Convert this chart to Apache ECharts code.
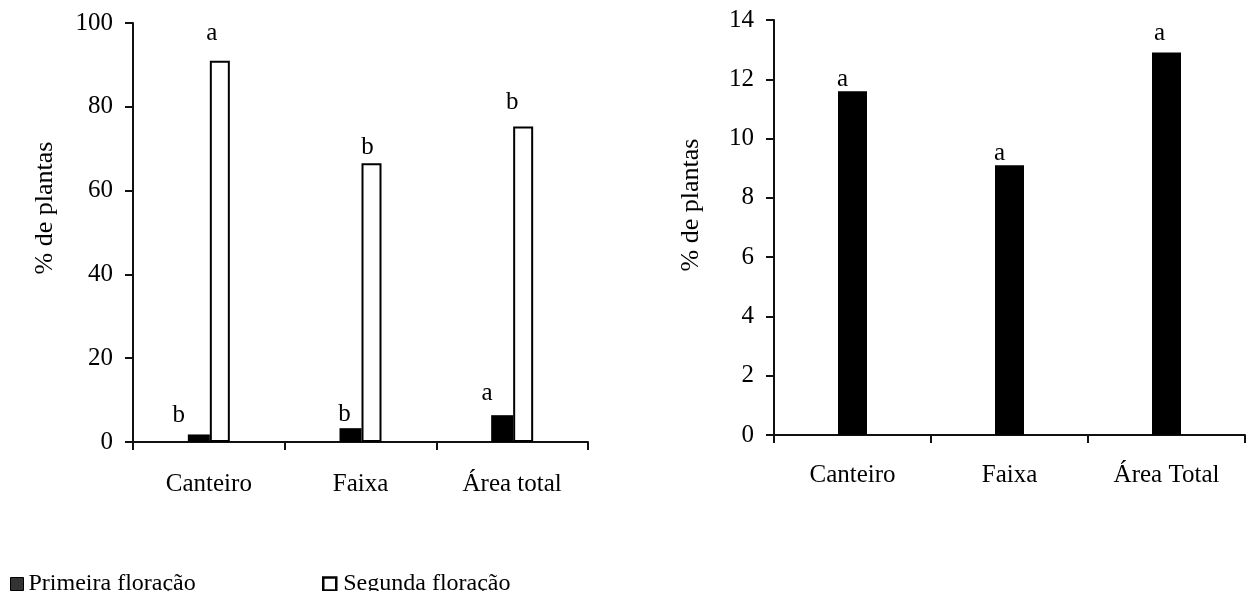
<!DOCTYPE html>
<html>
<head>
<meta charset="utf-8">
<script src="https://cdn.jsdelivr.net/npm/echarts@6/dist/echarts.min.js"></script>
<style>
  html, body { margin: 0; padding: 0; background: #fff; }
  #chart { width: 1252px; height: 591px; }
</style>
</head>
<body>
<div id="chart"></div>
<script>
// Left panel: share of plants flowering in the first and second flowering
const leftCategories = ['Canteiro', 'Faixa', 'Área total'];
const primeiraValues = [1.8, 3.3, 6.4];
const segundaValues = [91.0, 66.5, 75.3];
const primeiraLetters = ['b', 'b', 'a'];
const segundaLetters = ['a', 'b', 'b'];
const leftTicks = [0, 20, 40, 60, 80, 100];

// Right panel: share of plants per area
const rightCategories = ['Canteiro', 'Faixa', 'Área Total'];
const rightValues = [11.6, 9.1, 12.9];
const rightLetters = ['a', 'a', 'a'];
const rightTicks = [0, 2, 4, 6, 8, 10, 12, 14];

const FONT = '"Liberation Serif", "Times New Roman", serif';
const INK = '#000';

// hand-placed offsets of the significance letters above each bar
const primeiraLabelOffsets = [[-20, -7], [-6, -1], [-15, -9]];
const segundaLabelOffsets = [[-8, -15], [-4, -3], [-11, -12]];
const rightLabelOffsets = [[-10, 1], [-10, 1], [-7, -7]];

function withLetters(values, letters, offsets) {
  return values.map((v, i) => ({
    value: v,
    label: { offset: offsets[i], formatter: letters[i] }
  }));
}

const letterLabel = {
  show: true,
  position: 'top',
  distance: 0,
  color: INK,
  fontFamily: FONT,
  fontSize: 25
};

function valueAxis(gridIndex, ticks) {
  return {
    type: 'value',
    gridIndex: gridIndex,
    min: ticks[0],
    max: ticks[ticks.length - 1],
    interval: ticks[1] - ticks[0],
    axisLine: { show: true, lineStyle: { color: '#111', width: 2 } },
    axisTick: { show: true, inside: false, length: 8, lineStyle: { color: '#111', width: 2 } },
    axisLabel: { color: INK, fontFamily: FONT, fontSize: 25, margin: 20 },
    splitLine: { show: false }
  };
}

function categoryAxis(gridIndex, cats, margin) {
  return {
    type: 'category',
    gridIndex: gridIndex,
    data: cats,
    boundaryGap: true,
    axisLine: { show: true, onZero: false, lineStyle: { color: '#111', width: 2 } },
    axisTick: { show: true, interval: 0, length: 8, lineStyle: { color: '#111', width: 2 } },
    axisLabel: { color: INK, fontFamily: FONT, fontSize: 25, margin: margin, interval: 0 }
  };
}

const chart = echarts.init(document.getElementById('chart'), null, { renderer: 'canvas' });

chart.setOption({
  backgroundColor: '#fff',
  animation: false,
  grid: [
    { left: 133, right: 664, top: 23, bottom: 149 },
    { left: 774, right: 7, top: 20, bottom: 156 }
  ],
  xAxis: [
    categoryAxis(0, leftCategories, 30),
    categoryAxis(1, rightCategories, 28)
  ],
  yAxis: [
    valueAxis(0, leftTicks),
    valueAxis(1, rightTicks)
  ],
  legend: [
    {
      left: 5, top: 567,
      itemWidth: 13, itemHeight: 13, itemGap: 5,
      textStyle: { color: INK, fontFamily: FONT, fontSize: 24, padding: 0 },
      data: [{ name: 'Primeira floração', icon: 'rect',
               itemStyle: { color: '#333', borderColor: INK, borderWidth: 1 } }]
    },
    {
      left: 317, top: 567,
      itemWidth: 13, itemHeight: 13, itemGap: 5,
      textStyle: { color: INK, fontFamily: FONT, fontSize: 24, padding: [0, 0, 0, 2] },
      data: [{ name: 'Segunda floração', icon: 'rect',
               itemStyle: { color: '#fff', borderColor: INK, borderWidth: 2.5 } }]
    }
  ],
  graphic: [
    {
      type: 'text', x: 45, y: 208, rotation: Math.PI / 2,
      style: { text: '% de plantas', fill: INK, font: '26px ' + FONT,
               textAlign: 'center', textVerticalAlign: 'middle' }
    },
    {
      type: 'text', x: 691, y: 205, rotation: Math.PI / 2,
      style: { text: '% de plantas', fill: INK, font: '26px ' + FONT,
               textAlign: 'center', textVerticalAlign: 'middle' }
    }
  ],
  series: [
    {
      name: 'Primeira floração',
      type: 'bar',
      xAxisIndex: 0, yAxisIndex: 0,
      barWidth: 22,
      barGap: '0%',
      itemStyle: { color: INK },
      label: letterLabel,
      data: withLetters(primeiraValues, primeiraLetters, primeiraLabelOffsets)
    },
    {
      name: 'Segunda floração',
      type: 'bar',
      xAxisIndex: 0, yAxisIndex: 0,
      barWidth: 20,
      barGap: '0%',
      itemStyle: { color: '#fff', borderColor: INK, borderWidth: 2 },
      label: letterLabel,
      data: withLetters(segundaValues, segundaLetters, segundaLabelOffsets)
    },
    {
      name: 'Área',
      type: 'bar',
      xAxisIndex: 1, yAxisIndex: 1,
      barWidth: 29,
      itemStyle: { color: INK },
      label: letterLabel,
      data: withLetters(rightValues, rightLetters, rightLabelOffsets)
    }
  ]
});
</script>
</body>
</html>
